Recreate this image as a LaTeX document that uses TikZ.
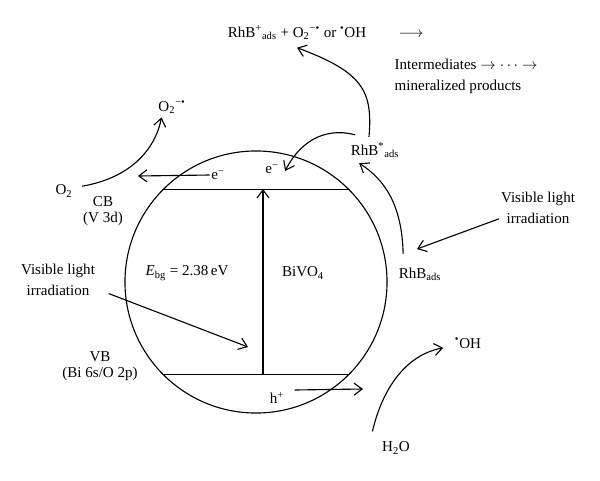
\documentclass[tikz,border=0pt]{standalone}
\usepackage{fontspec}
\setmainfont{Liberation Serif}
\usetikzlibrary{arrows.meta,positioning,calc}
\tikzset{
  rotulo/.style={inner sep=1pt, align=center, font=\fontsize{10.7}{15}\selectfont},
  banda/.style={inner sep=1pt, align=center, font=\fontsize{10.7}{11}\selectfont},
  seta/.style={-{Straight Barb[length=2mm,width=3mm]}, thick},
  linha/.style={thick},
}

\begin{document}
\begin{tikzpicture}[x=0.025cm, y=-0.025cm]
  \useasboundingbox (0,0) rectangle (600,481);
  % cristal de BiVO4 com as bandas
  \node[circle, draw, thick, minimum size=6.55cm, inner sep=0pt, outer sep=0pt] (cristal) at (256,282) {};
  \draw[linha] (cristal.135) -- (cristal.45);
  \draw[linha] (cristal.-135) -- (cristal.-45);
  \coordinate (bvbase) at (263,374);
  \coordinate (bctopo) at (263,189);
  \draw[seta] (bvbase) -- (bctopo);

  \node[banda] (cb) at (103,211) {CB\\(V 3d)};
  \node[banda] (vb) at (100,366) {VB\\(Bi 6s/O 2p)};
  \node[rotulo] (ebg) at (187,273) {\textit{E}\textsubscript{bg} = 2.38\,eV};
  \node[rotulo] (bivo) at (303,273) {BiVO\textsubscript{4}};

  % eletrons e O2
  \node[rotulo] (etopo) at (272,169) {e\textsuperscript{−}};
  \node[rotulo] (eesq) at (218,175) {e\textsuperscript{−}};
  \coordinate (eesqfim) at (138,176);
  \draw[seta] (eesq.west) -- (eesqfim);
  \node[rotulo] (o2) at (64,191) {O\textsubscript{2}};
  \node[rotulo] (o2rad) at (172,107) {O\textsubscript{2}\textsuperscript{−•}};
  \draw[seta] ([xshift=2mm,yshift=1.2mm]o2.east) .. controls (130,178) and (155,150) .. ([xshift=1.2mm,yshift=-0.6mm]o2rad.south west);

  % luz visivel
  \node[rotulo] (luzesq) at (58,280) {Visible light\\irradiation};
  \coordinate (luzesqfim) at (248,347);
  \draw[seta] ([xshift=3mm,yshift=1mm]luzesq.south east) -- (luzesqfim);
  \node[rotulo] (luzdir) at (538,208) {Visible light\\irradiation};
  \coordinate (luzdirfim) at (417,249);
  \draw[seta] ([xshift=-0.1mm,yshift=-2.7mm]luzdir.west) -- (luzdirfim);

  % lacunas e H2O
  \node[rotulo] (hmais) at (277,398) {h\textsuperscript{+}};
  \coordinate (hfim) at (363,389);
  \draw[seta] ([xshift=2.2mm,yshift=2mm]hmais.east) -- (hfim);
  \node[rotulo] (agua) at (396,448) {H\textsubscript{2}O};
  \node[rotulo] (ohrad) at (468,343) {\textsuperscript{•}OH};
  \draw[seta] ([xshift=-2mm,yshift=2.2mm]agua.north west) .. controls (382,390) and (405,355) .. ([xshift=-2.5mm,yshift=-1.2mm]ohrad.west);

  % RhB
  \node[rotulo] (rhb) at (420,274) {RhB\textsubscript{ads}};
  \node[rotulo] (rhbexc) at (375,150) {RhB\textsuperscript{*}\textsubscript{ads}};
  \draw[seta] ([xshift=1.5mm,yshift=3mm]rhb.north west) .. controls (402,205) and (385,180) .. ([xshift=2.5mm,yshift=-1mm]rhbexc.south west);
  \draw[seta] ([xshift=1.5mm,yshift=1.5mm]rhbexc.north west) .. controls (322,126) and (298,145) .. ([xshift=1.2mm,yshift=-0.5mm]etopo.east);

  \node[rotulo] (produto) at (297,33) {RhB\textsuperscript{+}\textsubscript{ads} + O\textsubscript{2}\textsuperscript{−•} or \textsuperscript{•}OH};
  \node[rotulo] (setalonga) at (411,35) {$\longrightarrow$};
  \node[rotulo, align=left, anchor=west] (interm) at (393,76) {Intermediates $\rightarrow\cdots\rightarrow$\\mineralized products};
  \draw[seta] ([xshift=-1.5mm,yshift=1mm]rhbexc.north) .. controls (373,90) and (362,72) .. ([yshift=-1.5mm]produto.south);
\end{tikzpicture}
\end{document}
